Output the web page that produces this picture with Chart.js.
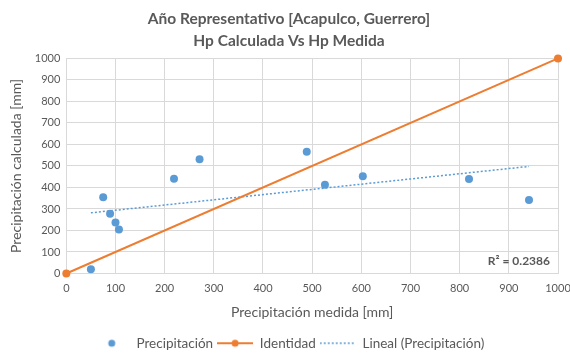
<!DOCTYPE html>
<html>
<head>
<meta charset="utf-8">
<script src="https://cdn.jsdelivr.net/npm/chart.js@4/dist/chart.umd.min.js"></script>
<style>
  html, body { margin: 0; padding: 0; background: #fff; }
  #wrap { width: 570px; height: 360px; }
</style>
</head>
<body>
<div id="wrap"><canvas id="chart"></canvas></div>
<script>
// valores
const medida = [50, 75, 89, 100, 107, 219, 271, 489, 526, 603, 819, 941];
const calculada = [20, 355, 278, 237, 205, 440, 531, 566, 413, 452, 439, 342];
const identidadX = [0, 1000];
const axisTicks = [0, 100, 200, 300, 400, 500, 600, 700, 800, 900, 1000];

const azul = "#5b9bd5";
const naranja = "#ed7d31";
const gris = "#595959";
const fuente = "Lato";

// recta de minimos cuadrados (linea de tendencia)
function tendencia(xs, ys) {
    const n = xs.length;
    const mx = xs.reduce((a, b) => a + b, 0) / n;
    const my = ys.reduce((a, b) => a + b, 0) / n;
    let sxy = 0, sxx = 0;
    for (let i = 0; i < n; i++) {
        sxy += (xs[i] - mx) * (ys[i] - my);
        sxx += (xs[i] - mx) * (xs[i] - mx);
    }
    const m = sxy / sxx;
    const b = my - m * mx;
    const x0 = Math.min(...xs), x1 = Math.max(...xs);
    return [{x: x0, y: m * x0 + b}, {x: x1, y: m * x1 + b}];
}

function legendIcon(kind) {
    const c = document.createElement("canvas");
    c.width = 36; c.height = 10;
    const g = c.getContext("2d");
    if (kind === "dot") {
        g.fillStyle = azul;
        g.beginPath(); g.arc(18, 5, 3.5, 0, Math.PI * 2); g.fill();
    } else if (kind === "line") {
        g.strokeStyle = naranja; g.lineWidth = 2;
        g.beginPath(); g.moveTo(0, 5); g.lineTo(36, 5); g.stroke();
        g.fillStyle = naranja;
        g.beginPath(); g.arc(18, 5, 3.5, 0, Math.PI * 2); g.fill();
    } else {
        g.strokeStyle = azul; g.lineWidth = 1.5;
        g.setLineDash([2, 2]);
        g.beginPath(); g.moveTo(0, 5); g.lineTo(36, 5); g.stroke();
    }
    return c;
}

const iconos = [legendIcon("dot"), legendIcon("line"), legendIcon("dash")];

const r2Label = {
    id: "r2Label",
    afterDatasetsDraw(chart) {
        const ctx = chart.ctx;
        const a = chart.chartArea;
        ctx.save();
        ctx.font = "bold 12px " + fuente;
        ctx.fillStyle = gris;
        ctx.textAlign = "right";
        ctx.textBaseline = "middle";
        ctx.fillText("R² = 0.2386", a.right - 8, a.bottom - 12);
        ctx.restore();
    }
};

new Chart(document.getElementById("chart"), {
    type: "scatter",
    data: {
        datasets: [{
            label: "Precipitación",
            data: medida.map((x, i) => ({x: x, y: calculada[i]})),
            backgroundColor: azul,
            borderColor: azul,
            pointRadius: 4,
            pointBorderWidth: 0,
            pointHoverRadius: 4,
            clip: false
        }, {
            label: "Identidad",
            data: identidadX.map(x => ({x: x, y: x})),
            showLine: true,
            borderColor: naranja,
            backgroundColor: naranja,
            borderWidth: 2,
            pointRadius: 4,
            pointBorderWidth: 0,
            clip: false
        }, {
            label: "Lineal (Precipitación)",
            data: tendencia(medida, calculada),
            showLine: true,
            borderColor: azul,
            borderWidth: 1.5,
            borderDash: [2, 2],
            pointRadius: 0
        }]
    },
    options: {
        responsive: true,
        maintainAspectRatio: false,
        animation: false,
        layout: { padding: { left: 8, right: 0, top: 2, bottom: 0 } },
        plugins: {
            title: {
                display: true,
                text: ["Año Representativo [Acapulco, Guerrero]", "Hp Calculada Vs Hp Medida"],
                color: gris,
                font: { family: fuente, size: 15.5, weight: "bold", lineHeight: 1.4 },
                padding: { top: 6, bottom: 7 }
            },
            legend: {
                position: "bottom",
                labels: {
                    usePointStyle: true,
                    pointStyleWidth: 36,
                    color: gris,
                    font: { family: fuente, size: 13.5 },
                    padding: 4,
                    generateLabels(chart) {
                        return chart.data.datasets.map((ds, i) => ({
                            text: ds.label,
                            pointStyle: iconos[i],
                            fillStyle: ds.borderColor,
                            strokeStyle: ds.borderColor,
                            lineWidth: 0,
                            fontColor: gris,
                            datasetIndex: i,
                            hidden: false
                        }));
                    }
                }
            },
            tooltip: { enabled: false }
        },
        scales: {
            x: {
                type: "linear",
                min: 0,
                max: 1000,
                afterBuildTicks(s) { s.ticks = axisTicks.map(v => ({value: v})); },
                afterFit(s) { s.paddingRight = 12; },
                grid: { color: "#d9d9d9", drawTicks: false },
                border: { display: false },
                ticks: {
                    color: gris, font: { family: fuente, size: 11 }, padding: 8,
                    callback: v => String(v)
                },
                title: {
                    display: true,
                    text: "Precipitación medida [mm]",
                    color: gris,
                    font: { family: fuente, size: 14 },
                    padding: { top: 1, bottom: 12 }
                }
            },
            y: {
                type: "linear",
                min: 0,
                max: 1000,
                afterBuildTicks(s) { s.ticks = axisTicks.map(v => ({value: v})); },
                grid: { color: "#d9d9d9", drawTicks: false },
                border: { display: false },
                ticks: {
                    color: gris, font: { family: fuente, size: 11 }, padding: 6,
                    callback: v => String(v)
                },
                title: {
                    display: true,
                    text: "Precipitación calculada [mm]",
                    color: gris,
                    font: { family: fuente, size: 14 },
                    padding: { top: 0, bottom: 4 }
                }
            }
        }
    },
    plugins: [r2Label]
});
</script>
</body>
</html>
